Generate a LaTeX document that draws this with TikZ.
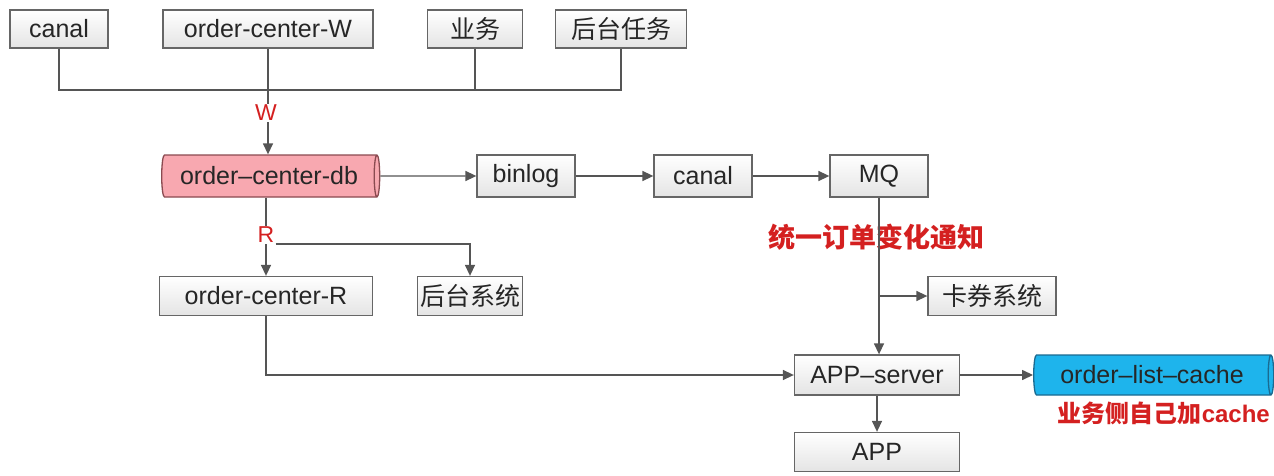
\documentclass[tikz,border=0pt]{standalone}
\usepackage{fontspec}
\setmainfont{Liberation Sans}
\newfontfamily\cjk{Noto Sans CJK SC}
\usetikzlibrary{shapes.geometric,arrows.meta}
\definecolor{boxfill}{HTML}{E4E4E4}
\definecolor{boxline}{HTML}{666666}
\definecolor{linec}{HTML}{555555}
\definecolor{dbpink}{HTML}{F8A8B0}
\definecolor{dbpinkline}{HTML}{8A4A50}
\definecolor{cacheblue}{HTML}{1EB4EC}
\definecolor{cachebline}{HTML}{1A6A90}
\definecolor{redlab}{HTML}{D42020}
\tikzset{
  box/.style={draw=boxline, line width=1.3pt, top color=white, bottom color=boxfill,
    minimum height=38pt, inner sep=0pt, font=\fontsize{25}{27}\selectfont, text=black!85},
  dbshape/.style={cylinder, shape aspect=0.3, draw=#1, line width=1.3pt, inner sep=0pt,
    font=\fontsize{25}{27}\selectfont, text=black!85},
  conn/.style={draw=linec, line width=1.4pt},
  arr/.style={conn, -{Triangle[length=11pt,width=10pt]}},
  rlab/.style={text=redlab, font=\fontsize{23}{25}\selectfont, inner sep=1pt},
  blab/.style={text=redlab, font=\cjk\bfseries\fontsize{27}{29}\selectfont, inner sep=1pt},
}
\begin{document}
\begin{tikzpicture}[x=1pt,y=-1pt]
\useasboundingbox (0,0) rectangle (1274,476);
% top row
\node[box, minimum width=98pt] (canalA) at (59,29) {canal};
\node[box, minimum width=210pt] (ocw) at (268,29) {order-center-W};
\node[box, minimum width=95pt] (yw) at (475,29) {\cjk 业务};
\node[box, minimum width=131pt] (htrw) at (621,29) {\cjk 后台任务};
% db row
\node[dbshape=dbpinkline, fill=dbpink, minimum height=218pt, minimum width=42pt] (db) at (269,176) {order–center-db};
\node[box, minimum width=98pt, minimum height=42pt] (binlog) at (526,176) {binlog};
\node[box, minimum width=98pt, minimum height=42pt] (canalB) at (703,176) {canal};
\node[box, minimum width=98pt, minimum height=42pt] (mq) at (879,176) {MQ};
% row 3
\node[box, minimum width=213pt, minimum height=39pt] (ocr) at (266,296) {order-center-R};
\node[box, minimum width=105pt, minimum height=39pt] (htxt) at (470,296) {\cjk 后台系统};
\node[box, minimum width=128pt, minimum height=39pt] (kq) at (992,296) {\cjk 卡券系统};
% row 4
\node[box, minimum width=165pt, minimum height=40pt] (apps) at (877,375) {APP–server};
\node[dbshape=cachebline, fill=cacheblue, minimum height=240pt, minimum width=40pt] (cache) at (1152,375) {order–list–cache};
\node[box, minimum width=165pt, minimum height=39pt] (app) at (877,452) {APP};
% labels
\node[rlab] (W) at (266,113) {W};
\node[rlab] (R) at (266,235) {R};
\node[blab] (notify) at (876,237) {统一订单变化通知};
\node[blab, font=\cjk\bfseries\fontsize{24}{26}\selectfont, anchor=east] (selfcache) at (1271,413) {业务侧自己加\fontspec{Liberation Sans}\bfseries cache};
% W connectors
\coordinate (jW) at (268,90);
\draw[conn] (canalA.south) |- (jW) -| (htrw.south);
\draw[conn] (yw.south) -- (yw.south |- jW);
\draw[conn] (ocw.south) -- (jW) -- (W.north -| jW);
\draw[arr] (W.south -| jW) -- (db.north -| jW);
% db chain
\draw[arr] (db.east) -- (binlog.west);
\draw[arr] (binlog.east) -- (canalB.west);
\draw[arr] (canalB.east) -- (mq.west);
% R connectors
\draw[conn] (db.south -| R) -- (R.north);
\draw[arr] (R.south) -- (ocr.north -| R);
\draw[arr] (R.south east) -- (R.south east -| htxt) -- (htxt.north);
% MQ
\draw[arr] (mq.south) -- (mq.south |- apps.north);
\draw[arr] (mq.south |- kq.west) -- (kq.west);
% order-center-R to APP-server
\draw[arr] (ocr.south) |- (apps.west);
\draw[arr] (apps.east) -- (cache.west);
\draw[arr] (apps.south) -- (app.north);
\end{tikzpicture}
\end{document}
